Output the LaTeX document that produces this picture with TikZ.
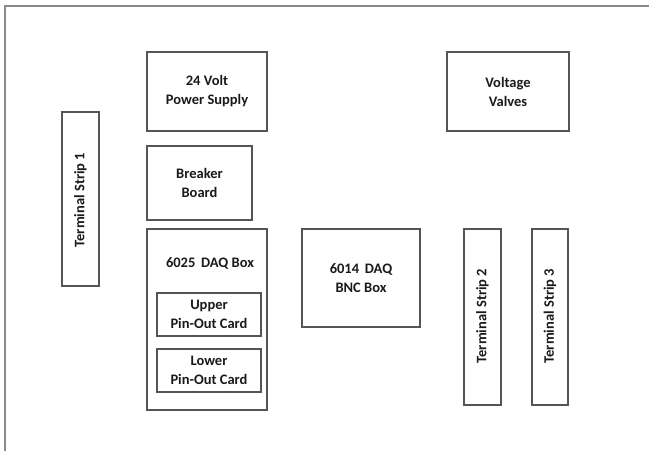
\documentclass[tikz,border=0pt]{standalone}
\usepackage{fontspec}
\setmainfont{Carlito}
\definecolor{edge}{HTML}{555555}
\definecolor{frame}{HTML}{8A8A8A}
\definecolor{ink}{HTML}{1A1A1A}
\begin{document}
\begin{tikzpicture}[x=1pt,y=-1pt,
  box/.style={draw=edge, line width=1.1pt, fill=white, inner sep=0pt, align=center,
    font=\fontsize{14.5}{19}\selectfont\bfseries, text=ink},
  lbl/.style={box, draw=none, fill=none},
  vbox/.style={box, minimum width=37pt, minimum height=175pt}]
\useasboundingbox (0,0) rectangle (649,451);
\coordinate (f1) at (5,451);
\coordinate (f2) at (5,6);
\coordinate (f3) at (649,6);
\draw[frame, line width=1.4pt] (f1) -- (f2) -- (f3);
\node[box, minimum width=120pt, minimum height=79pt] (ps) at (207,91.5) {24 Volt\\Power Supply};
\node[box, minimum width=122pt, minimum height=79pt] (vv) at (508,91.5) {Voltage\\Valves};
\node[vbox, minimum height=174pt] (ts1) at (80.5,199) {};
\node[lbl, rotate=90] (ts1t) at (80.5,200) {Terminal Strip 1};
\node[box, minimum width=105pt, minimum height=74pt] (bb) at (199.5,183) {Breaker\\Board};
\node[box, minimum width=120pt, minimum height=181pt] (daq) at (207,319.5) {};
\node[lbl] (daqt) at (210,263) {6025\, DAQ Box};
\node[box, minimum width=104pt, minimum height=43pt] (up) at (209,314.5) {Upper\\Pin-Out Card};
\node[box, minimum width=104pt, minimum height=43pt] (lo) at (209,370.5) {Lower\\Pin-Out Card};
\node[box, minimum width=118pt, minimum height=98pt] (bnc) at (361,278) {6014\, DAQ\\BNC Box};
\node[vbox, minimum height=176pt] (ts2) at (482.5,317) {};
\node[lbl, rotate=90] (ts2t) at (482.5,316) {Terminal Strip 2};
\node[vbox, minimum width=36pt, minimum height=176pt] (ts3) at (550,317) {};
\node[lbl, rotate=90] (ts3t) at (550,316) {Terminal Strip 3};
\end{tikzpicture}
\end{document}
